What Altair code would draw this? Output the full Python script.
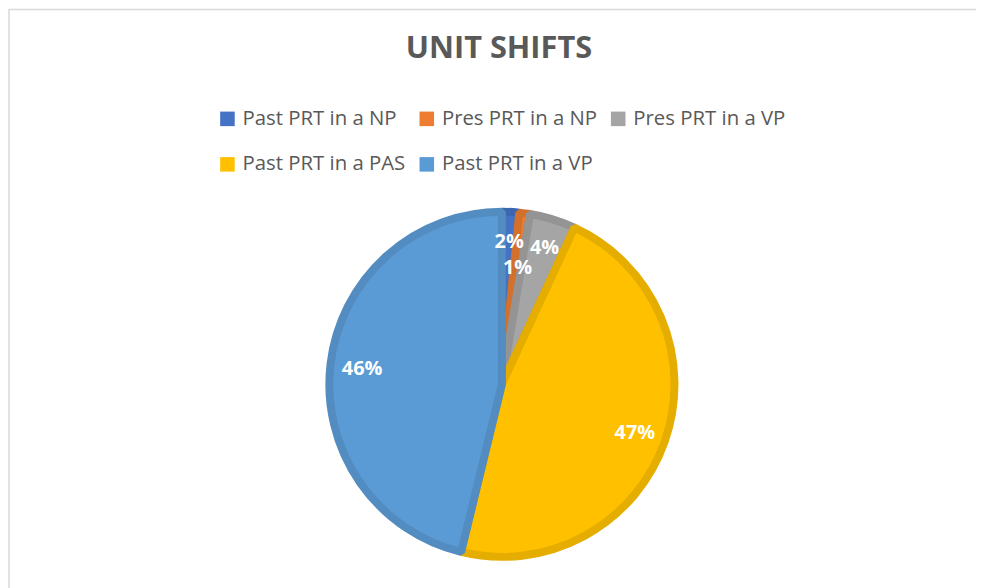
import altair as alt
import pandas as pd

categories = ["Past PRT in a NP", "Pres PRT in a NP", "Pres PRT in a VP",
              "Past PRT in a PAS", "Past PRT in a VP"]
values = [1.6, 1.0, 4.3, 46.9, 46.2]
fill_colors = ["#4472C4", "#ED7D31", "#A5A5A5", "#FFC000", "#5B9BD5"]
stroke_colors = ["#3D66B0", "#D2702C", "#949494", "#E5AD00", "#528CC0"]

df = pd.DataFrame({"category": categories, "value": values,
                   "idx": list(range(len(categories)))})

CX, CY = 498, 277
FONT = "Open Sans"

base = alt.Chart(df).transform_joinaggregate(
    total="sum(value)"
).transform_calculate(
    share="datum.value / datum.total"
)

arcs = base.mark_arc(radius=174, strokeWidth=8, strokeJoin="bevel").encode(
    theta=alt.Theta("value:Q", stack=True),
    order=alt.Order("idx:Q"),
    color=alt.Color("category:N",
                    scale=alt.Scale(domain=categories, range=fill_colors),
                    sort=categories,
                    legend=alt.Legend(
                        title=None, orient="none", legendX=211, legendY=-1,
                        direction="horizontal", columns=3, gridAlign="each",
                        symbolType="square", symbolSize=215, symbolStrokeWidth=0,
                        labelFont=FONT, labelFontSize=20.5, labelColor="#595959",
                        labelLimit=400,
                        columnPadding=11, rowPadding=25, symbolOffset=0,
                        labelOffset=5, padding=0)),
    stroke=alt.Stroke("category:N",
                      scale=alt.Scale(domain=categories, range=stroke_colors),
                      legend=None),
    x=alt.value(CX), y=alt.value(CY),
)

labels = base.transform_window(
    cum="sum(value)", sort=[alt.SortField("idx")], frame=[None, 0]
).transform_calculate(
    mid="(datum.cum - datum.value / 2) / datum.total * 2 * PI",
    r="datum.idx == 1 ? 120 : (datum.share < 0.1 ? 146 : 142)"
).mark_text(font=FONT, fontSize=20, fontWeight="bold", color="white", dy=2).encode(
    theta=alt.Theta("mid:Q", scale=None),
    radius=alt.Radius("r:Q", scale=None),
    text=alt.Text("share:Q", format=".0%"),
    x=alt.value(CX), y=alt.value(CY),
)

frame = alt.Chart(pd.DataFrame({"a": [0]})).mark_rect(
    filled=False, stroke="#D9D9D9", strokeWidth=1.5
).encode(x=alt.value(1), y=alt.value(-101), x2=alt.value(3000), y2=alt.value(3000))

chart = alt.layer(frame, arcs, labels).properties(
    width=976, height=480,
    padding={"left": 0, "top": 100, "right": 0, "bottom": 0},
    autosize=alt.AutoSizeParams(type="none"),
    title=alt.TitleParams("UNIT SHIFTS", font=FONT, fontSize=31, fontWeight="bold",
                          color="#595959", anchor="middle", dx=7, offset=0, dy=81,
                          baseline="alphabetic", frame="group"),
).configure_view(stroke=None)

chart.save("out.html", embed_options={"renderer": "svg", "actions": False})
